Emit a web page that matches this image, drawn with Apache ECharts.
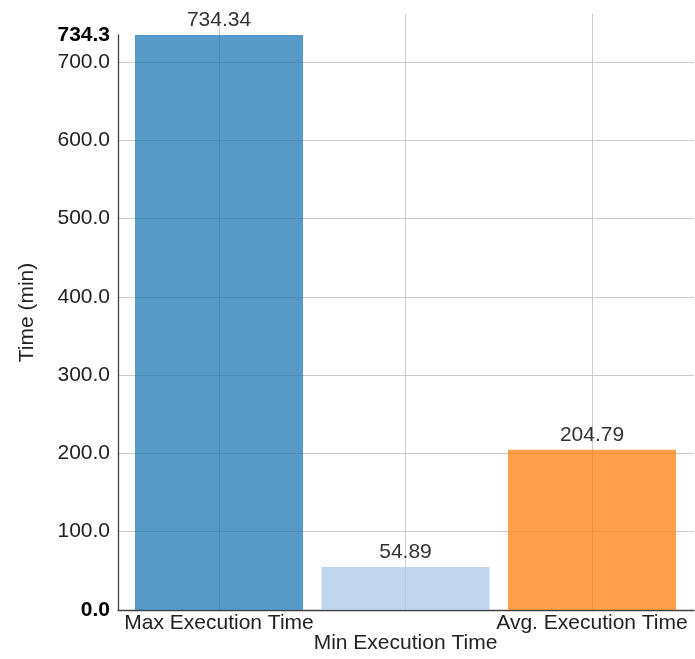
<!DOCTYPE html>
<html>
<head>
<meta charset="utf-8">
<script src="https://cdn.jsdelivr.net/npm/echarts@6/dist/echarts.min.js"></script>
<style>
html,body{margin:0;padding:0;background:#fff;}
#chart{width:695px;height:659px;}
</style>
</head>
<body>
<div id="chart"></div>
<script>
const categories = ['Max Execution Time', 'Min Execution Time', 'Avg. Execution Time'];
const values = [734.34, 54.89, 204.79];
const yMin = 0;
const yMax = 734.34;
const yInterval = 100;
const yAxisName = 'Time (min)';

const barColors = ['#1f77b4', '#aec7e8', '#ff7f0e'];
const barAlpha = 0.75;
const FONT = 'Liberation Sans, Arial, sans-serif';
const FS = 21;
const gridColor = '#cccccc';
const textColor = '#222';

function withAlpha(hex, a) {
  const n = parseInt(hex.slice(1), 16);
  return 'rgba(' + ((n >> 16) & 255) + ',' + ((n >> 8) & 255) + ',' + (n & 255) + ',' + a + ')';
}

const chart = echarts.init(document.getElementById('chart'));
chart.setOption({
  animation: false,
  textStyle: { fontFamily: FONT },
  grid: [
    { left: 118, right: 1, top: 35, bottom: 49, containLabel: false },
    { left: 125.75, right: 9.75, top: 35, bottom: 49, containLabel: false },
    { left: 219, right: 103, top: 14, bottom: 49, containLabel: false }
  ],
  xAxis: [
    {
      gridIndex: 0, type: 'category', data: categories,
      axisLine: { show: true, lineStyle: { color: '#404040', width: 1.3 } },
      axisTick: { show: false }, axisLabel: { show: false }, splitLine: { show: false }
    },
    {
      gridIndex: 1, type: 'category', data: categories,
      axisLine: { show: false }, axisTick: { show: false }, splitLine: { show: false },
      axisLabel: {
        show: true, interval: 0, margin: 3,
        fontSize: FS, lineHeight: 20, color: textColor, fontFamily: FONT,
        formatter: (v, i) => (i % 2 === 1 ? '\n' + v : v)
      }
    },
    {
      gridIndex: 2, type: 'category', data: categories, boundaryGap: false,
      axisLine: { show: false }, axisTick: { show: false }, axisLabel: { show: false },
      splitLine: { show: true, showMinLine: true, showMaxLine: true, lineStyle: { color: gridColor, width: 1 } }
    }
  ],
  yAxis: [
    {
      gridIndex: 0, type: 'value', min: yMin, max: yMax, interval: yInterval,
      name: yAxisName, nameLocation: 'middle', nameGap: 80, nameRotate: 90,
      nameTextStyle: { fontSize: FS, color: textColor, fontFamily: FONT, padding: [0, 0, 0, 20] },
      axisLine: { show: true, lineStyle: { color: '#404040', width: 1.3 } },
      axisTick: { show: false },
      splitLine: { show: true, showMinLine: false, showMaxLine: false, lineStyle: { color: gridColor, width: 1 } },
      axisLabel: {
        show: true, margin: 8, fontSize: FS, color: textColor, fontFamily: FONT,
        formatter: function (v) {
          const s = v.toFixed(1);
          if (v === yMin || Math.abs(v - yMax) < 1e-9) return '{b|' + s + '}';
          return s;
        },
        rich: { b: { fontWeight: 'bold', fontSize: FS, color: '#000', fontFamily: FONT } }
      }
    },
    {
      gridIndex: 1, type: 'value', min: yMin, max: yMax, show: false,
      splitLine: { show: false }
    },
    {
      gridIndex: 2, type: 'value', min: 0, max: 1, show: false,
      splitLine: { show: false }
    }
  ],
  series: [
    {
      type: 'bar', xAxisIndex: 1, yAxisIndex: 1,
      data: values, barWidth: 168,
      colorBy: 'data', color: barColors.map(c => withAlpha(c, barAlpha)),
      emphasis: { disabled: true },
      label: {
        show: true, position: 'top', distance: 4,
        fontSize: FS, color: '#333', fontFamily: FONT,
        formatter: p => p.value.toFixed(2)
      }
    }
  ]
});
</script>
</body>
</html>
